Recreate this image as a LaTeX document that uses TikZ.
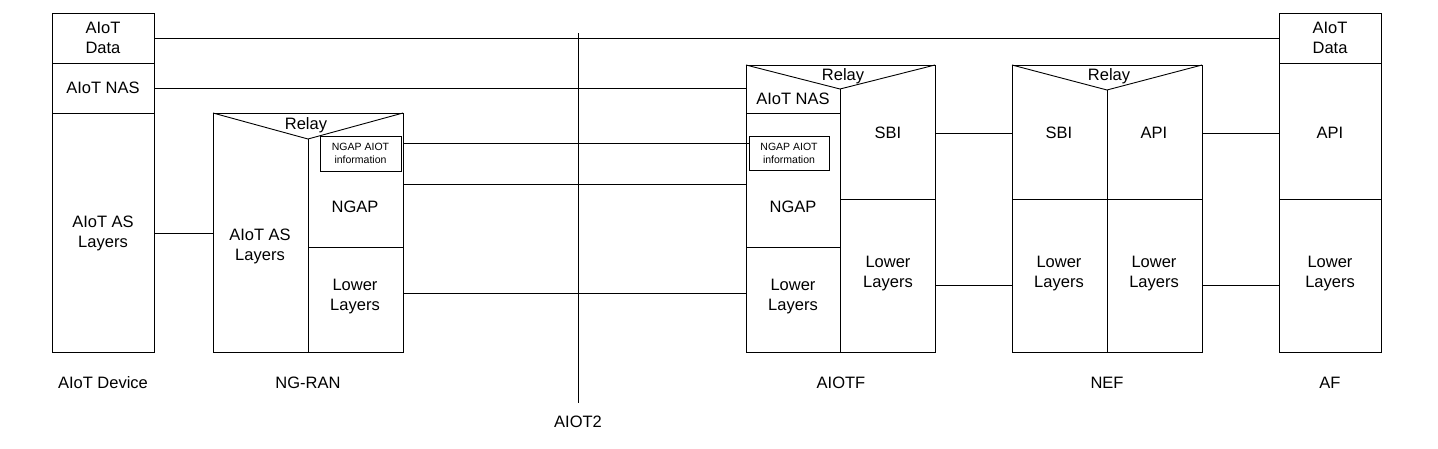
\documentclass[tikz,border=0pt]{standalone}
\usepackage{fontspec}
\setmainfont{Liberation Sans}
\begin{document}
\begin{tikzpicture}[x=1pt,y=-1pt,line width=0.9pt,
  t/.style={font=\fontsize{16.5}{20}\selectfont,align=center},
  s/.style={font=\fontsize{10.5}{13}\selectfont,align=center,inner sep=0pt}]
\useasboundingbox (0,0) rectangle (1438,448);
% AIoT Device
\draw (52,13) rectangle (154,352);
\draw (52,63) -- (154,63) (52,113) -- (154,113);
\node[t] (ddata) at (103,38) {AIoT\\Data};
\node[t] (dnas) at (103,88) {AIoT NAS};
\node[t] (das) at (103,233) {AIoT AS\\Layers};
\node[t] (ldev) at (103,383) {AIoT Device};
% NG-RAN
\draw (213,113) rectangle (403,352);
\draw (213,113) -- (308,139) -- (403,113);
\draw (308,139) -- (308,352) (308,247) -- (403,247);
\node[t] at (306,125) {Relay};
\node[draw,s,minimum width=81pt,minimum height=35pt] (rinfo) at (360.5,153.5) {NGAP AIOT\\information};
\node[t] (rngap) at (355,207) {NGAP};
\node[t] (ras) at (260,246) {AIoT AS\\Layers};
\node[t] (rlow) at (355,297) {Lower\\Layers};
\node[t] at (308,383) {NG-RAN};
% AIOTF
\draw (746,65) rectangle (935,352);
\draw (746,65) -- (840,89) -- (935,65);
\draw (840,89) -- (840,352) (746,113) -- (840,113) (746,247) -- (840,247) (840,199) -- (935,199);
\node[t] at (843,76) {Relay};
\node[t] (anas) at (793,99) {AIoT NAS};
\node[draw,s,minimum width=80pt,minimum height=34pt] (ainfo) at (789,153) {NGAP AIOT\\information};
\node[t] (angap) at (793,207) {NGAP};
\node[t] (asbi) at (888,133) {SBI};
\node[t] (alow) at (793,297) {Lower\\Layers};
\node[t] (alow2) at (888,274) {Lower\\Layers};
\node[t] at (841,383) {AIOTF};
% NEF
\draw (1012,65) rectangle (1202,352);
\draw (1012,65) -- (1107,90) -- (1202,65);
\draw (1107,90) -- (1107,352) (1012,199) -- (1202,199);
\node[t] at (1109,76) {Relay};
\node[t] (nsbi) at (1059,133) {SBI};
\node[t] (napi) at (1154,133) {API};
\node[t] at (1059,274) {Lower\\Layers};
\node[t] at (1154,274) {Lower\\Layers};
\node[t] at (1107,383) {NEF};
% AF
\draw (1279,13) rectangle (1381,352);
\draw (1279,63) -- (1381,63) (1279,199) -- (1381,199);
\node[t] at (1330,38) {AIoT\\Data};
\node[t] at (1330,133) {API};
\node[t] at (1330,274) {Lower\\Layers};
\node[t] at (1330,383) {AF};
% links
\coordinate (d1) at (154,38); \coordinate (f1) at (1279,38);
\draw (d1) -- (f1);
\coordinate (d2) at (154,88); \coordinate (a2) at (746,88);
\draw (d2) -- (a2);
\coordinate (d3) at (154,233); \coordinate (r3) at (213,233);
\draw (d3) -- (r3);
\coordinate (r4) at (403,143); \coordinate (a4) at (749,143);
\draw (r4) -- (a4);
\coordinate (r5) at (403,184); \coordinate (a5) at (746,184);
\draw (r5) -- (a5);
\coordinate (r6) at (403,293); \coordinate (a6) at (746,293);
\draw (r6) -- (a6);
\draw (935,133) -- (1012,133) (1202,133) -- (1279,133);
\draw (935,285) -- (1012,285) (1202,285) -- (1279,285);
% AIOT2
\coordinate (v1) at (578,33); \coordinate (v2) at (578,403);
\draw (v1) -- (v2);
\node[t] at (578,422) {AIOT2};
\end{tikzpicture}
\end{document}
